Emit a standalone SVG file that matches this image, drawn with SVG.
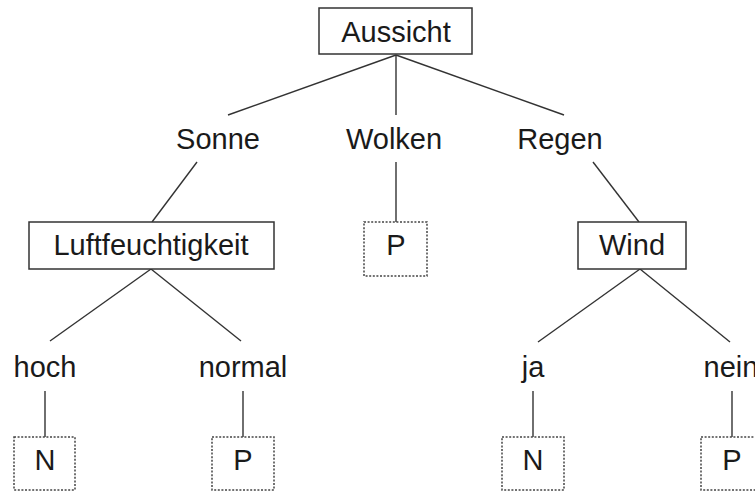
<svg xmlns="http://www.w3.org/2000/svg" width="755" height="491" viewBox="0 0 755 491">
  <style>
    text { font-family: "Liberation Sans", Arial, sans-serif; font-size: 29px; fill: #1a1a1a; text-anchor: middle; }
    .attr rect { fill: #fff; stroke: #333; stroke-width: 1.5; }
    .leaf rect { fill: #fff; stroke: #444; stroke-width: 1.5; stroke-dasharray: 2 1.6; }
    #edges line { stroke: #333; stroke-width: 1.4; }
  </style>
  <rect width="755" height="491" fill="#fff"/>

  <g id="edges">
    <line x1="396" y1="55" x2="228" y2="115"/>
    <line x1="396" y1="55" x2="396" y2="115"/>
    <line x1="396" y1="55" x2="564" y2="115"/>
    <line x1="197" y1="162" x2="152" y2="222"/>
    <line x1="396" y1="162" x2="396" y2="222"/>
    <line x1="593" y1="162" x2="639" y2="222"/>
    <line x1="151" y1="269" x2="50" y2="341"/>
    <line x1="151" y1="269" x2="241" y2="341"/>
    <line x1="640" y1="269" x2="538" y2="342"/>
    <line x1="640" y1="269" x2="730" y2="342"/>
    <line x1="45" y1="391" x2="45" y2="437"/>
    <line x1="243" y1="391" x2="243" y2="437"/>
    <line x1="533" y1="391" x2="533" y2="437"/>
    <line x1="732" y1="391" x2="732" y2="437"/>
  </g>

  <g id="aussicht" class="attr">
    <rect x="319" y="8" width="153" height="46"/>
    <text x="396" y="42">Aussicht</text>
  </g>

  <g id="sonne"><text x="218" y="149">Sonne</text></g>
  <g id="wolken"><text x="394" y="149">Wolken</text></g>
  <g id="regen"><text x="560" y="149">Regen</text></g>

  <g id="luftfeuchtigkeit" class="attr">
    <rect x="29" y="222" width="245" height="47"/>
    <text x="151" y="255">Luftfeuchtigkeit</text>
  </g>
  <g id="wolken-p" class="leaf">
    <rect x="364" y="222" width="63" height="54"/>
    <text x="396" y="255">P</text>
  </g>
  <g id="wind" class="attr">
    <rect x="578" y="222" width="108" height="47"/>
    <text x="632" y="255">Wind</text>
  </g>

  <g id="hoch"><text x="45" y="377">hoch</text></g>
  <g id="normal"><text x="243" y="377">normal</text></g>
  <g id="ja"><text x="533" y="377">ja</text></g>
  <g id="nein"><text x="731" y="377">nein</text></g>

  <g id="hoch-n" class="leaf">
    <rect x="14" y="437" width="61" height="53"/>
    <text x="45" y="470">N</text>
  </g>
  <g id="normal-p" class="leaf">
    <rect x="212" y="437" width="62" height="53"/>
    <text x="243" y="470">P</text>
  </g>
  <g id="ja-n" class="leaf">
    <rect x="502" y="437" width="62" height="53"/>
    <text x="533" y="470">N</text>
  </g>
  <g id="nein-p" class="leaf">
    <rect x="701" y="437" width="62" height="53"/>
    <text x="732" y="470">P</text>
  </g>
</svg>
